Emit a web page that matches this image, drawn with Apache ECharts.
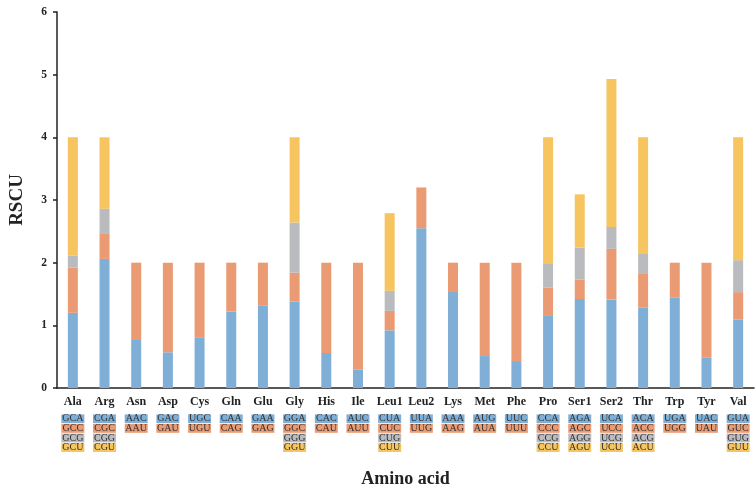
<!DOCTYPE html>
<html><head><meta charset="utf-8">
<script src="https://cdn.jsdelivr.net/npm/echarts@6/dist/echarts.min.js"></script>
<style>html,body{margin:0;padding:0;background:#fff}#c{width:756px;height:495px}</style>
</head><body><div id="c"></div>
<script>
const aminoAcids = ['Ala','Arg','Asn','Asp','Cys','Gln','Glu','Gly','His','Ile','Leu1','Leu2','Lys','Met','Phe','Pro','Ser1','Ser2','Thr','Trp','Tyr','Val'];
const codons = [
  ['GCA','GCC','GCG','GCU'],['CGA','CGC','CGG','CGU'],['AAC','AAU'],['GAC','GAU'],['UGC','UGU'],
  ['CAA','CAG'],['GAA','GAG'],['GGA','GGC','GGG','GGU'],['CAC','CAU'],['AUC','AUU'],
  ['CUA','CUC','CUG','CUU'],['UUA','UUG'],['AAA','AAG'],['AUG','AUA'],['UUC','UUU'],
  ['CCA','CCC','CCG','CCU'],['AGA','AGC','AGG','AGU'],['UCA','UCC','UCG','UCU'],
  ['ACA','ACC','ACG','ACU'],['UGA','UGG'],['UAC','UAU'],['GUA','GUC','GUG','GUU']
];
const codon1 = [1.20,2.06,0.78,0.57,0.81,1.22,1.32,1.38,0.56,0.29,0.92,2.55,1.53,0.51,0.43,1.15,1.42,1.41,1.28,1.44,0.49,1.09];
const codon2 = [0.72,0.41,1.22,1.43,1.19,0.78,0.68,0.46,1.44,1.71,0.31,0.65,0.47,1.49,1.57,0.45,0.31,0.81,0.54,0.56,1.51,0.44];
const codon3 = [0.19,0.39,null,null,null,null,null,0.80,null,null,0.32,null,null,null,null,0.38,0.51,0.35,0.32,null,null,0.51];
const codon4 = [1.89,1.14,null,null,null,null,null,1.36,null,null,1.24,null,null,null,null,2.02,0.85,2.36,1.86,null,null,1.96];
const yTicks = [0,1,2,3,4,5,6];

const colors = ['#7FAFD7','#EB9B73','#BABBBE','#F6C55F'];
const serif = 'Liberation Serif';
const rich = {};
['c0','c1','c2','c3'].forEach((k,i)=>{
  rich[k] = {backgroundColor: colors[i], color:'#333', fontFamily: serif, fontSize: 10,
    width: 21, height: 8.8, lineHeight: 9.6, align:'center', padding:[0,1,0,1]};
});
const chart = echarts.init(document.getElementById('c'));
const mk = (name, data, i) => ({
  name, type:'bar', stack:'a', data, barWidth: 10, itemStyle:{color: colors[i]},
  xAxisIndex: 0
});
chart.setOption({
  animation:false,
  grid:{left:54, right:2, top:12, bottom:107},
  xAxis:[{
    type:'category', data: aminoAcids, position:'bottom',
    axisLine:{lineStyle:{color:'#222', width:1.5}},
    axisTick:{alignWithLabel:true, length:4, lineStyle:{color:'#222', width:1.5}},
    axisLabel:{interval:0, margin:8, color:'#222', fontFamily:serif, fontWeight:'bold', fontSize:12},
    name:'Amino acid', nameLocation:'middle', nameGap:82,
    nameTextStyle:{fontFamily:serif, fontWeight:'bold', fontSize:18, color:'#222'}
  },{
    type:'category', data: aminoAcids, position:'bottom',
    axisLine:{show:false}, axisTick:{show:false},
    axisLabel:{interval:0, margin:26, rich,
      formatter:(v, idx)=> codons[idx].map((c,j)=>'{c'+j+'|'+c+'}').join('\n')}
  }],
  yAxis:{
    type:'value', min:0, max:6, interval:1,
    splitLine:{show:false},
    axisLine:{show:true, lineStyle:{color:'#222', width:1.5}},
    axisTick:{show:true, length:4, lineStyle:{color:'#222', width:1.5}},
    axisLabel:{margin:10, color:'#222', fontFamily:serif, fontWeight:'bold', fontSize:11.5,
      formatter:(v)=> yTicks.includes(v) ? String(v) : ''},
    name:'RSCU', nameLocation:'middle', nameGap:30, nameRotate:90,
    nameTextStyle:{fontFamily:serif, fontWeight:'bold', fontSize:19, color:'#222'}
  },
  series:[mk('codon1',codon1,0), mk('codon2',codon2,1), mk('codon3',codon3,2), mk('codon4',codon4,3)]
});
</script></body></html>
